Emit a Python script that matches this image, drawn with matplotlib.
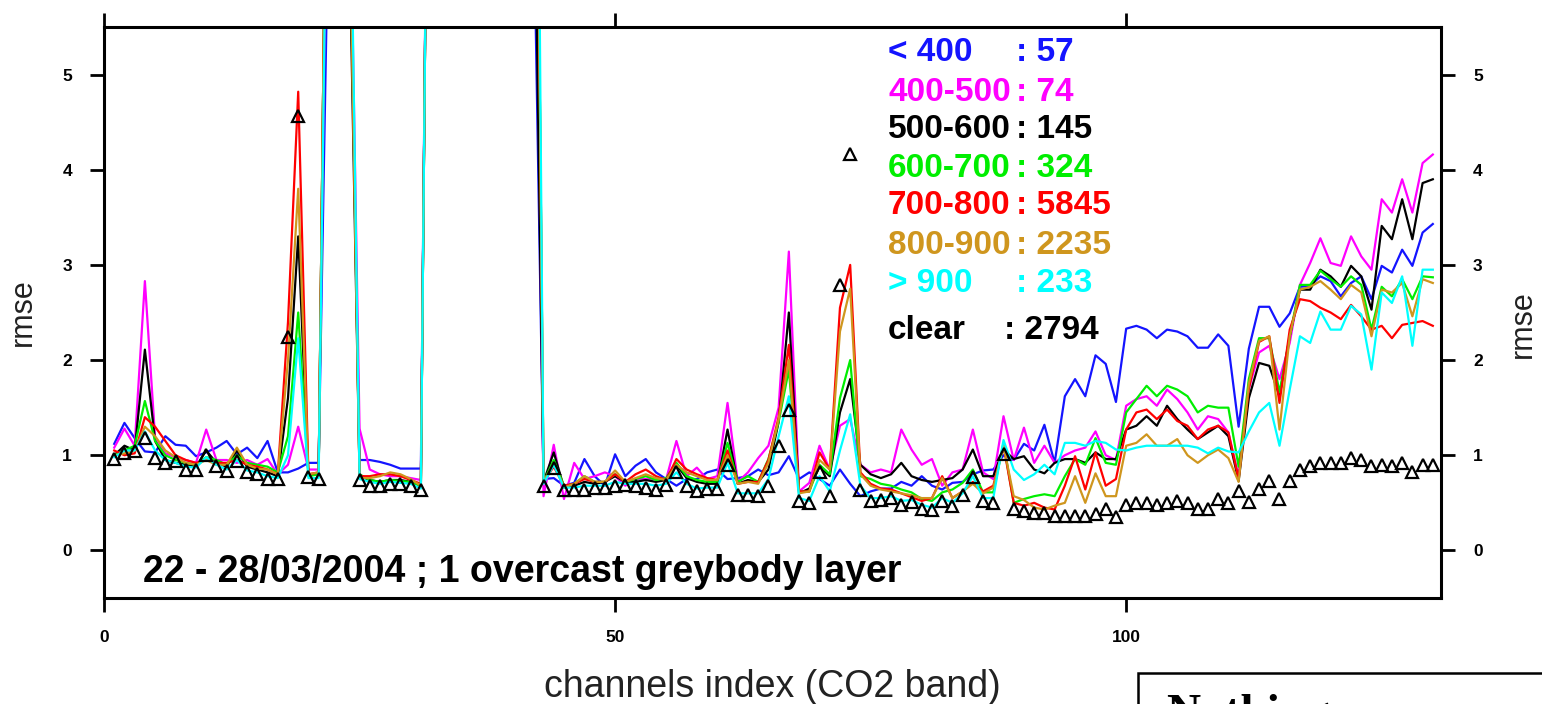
import numpy as np
import matplotlib
matplotlib.use('Agg')
import matplotlib.pyplot as plt
from matplotlib.patches import Rectangle

# channel index of the CO2 band
channels = np.arange(1, 131)

# rmse per cloud-top pressure class (values above 5.5 leave the frame)
lt400 = [
    1.12, 1.34, 1.18, 1.04, 1.03, 1.20, 1.11, 1.10, 0.99, 1.03,
    1.08, 1.15, 1.01, 1.08, 0.97, 1.15, 0.82, 0.82, 0.86, 0.92,
    0.92, 7.0, 12.0, 7.0, 0.95, 0.95, 0.93, 0.90, 0.86, 0.86,
    0.86, 12.0, 12.0, 12.0, 12.0, 12.0, 12.0, 12.0, 12.0, 12.0,
    12.0, 7.0, 0.75, 0.76, 0.68, 0.71, 0.96, 0.78, 0.68, 1.01,
    0.78, 0.89, 0.96, 0.82, 0.75, 0.68, 0.75, 0.75, 0.82, 0.85,
    0.75, 0.76, 0.78, 0.85, 0.79, 0.82, 0.99, 0.75, 0.82, 0.75,
    0.68, 0.85, 0.70, 0.57, 0.62, 0.65, 0.65, 0.72, 0.68, 0.78,
    0.68, 0.64, 0.71, 0.72, 0.80, 0.84, 0.85, 1.00, 0.95, 1.12,
    1.05, 1.32, 0.92, 1.62, 1.80, 1.62, 2.05, 1.96, 1.56, 2.33,
    2.36, 2.32, 2.23, 2.32, 2.30, 2.25, 2.13, 2.13, 2.27, 2.15,
    1.30, 2.12, 2.56, 2.56, 2.35, 2.49, 2.77, 2.78, 2.88, 2.83,
    2.67, 2.81, 2.88, 2.64, 2.99, 2.92, 3.16, 2.99, 3.34, 3.43,
]
p400_500 = [
    1.08, 1.28, 1.10, 2.83, 1.18, 1.02, 0.98, 0.95, 0.92, 1.27,
    0.95, 0.95, 0.92, 0.95, 0.90, 0.96, 0.80, 0.90, 1.30, 0.85,
    0.85, 9.0, 12.0, 7.5, 1.28, 0.85, 0.80, 0.78, 0.78, 0.76,
    0.74, 12.0, 12.0, 12.0, 12.0, 12.0, 12.0, 12.0, 12.0, 12.0,
    12.0, 9.0, 0.57, 1.11, 0.54, 0.92, 0.75, 0.78, 0.82, 0.78,
    0.68, 0.75, 0.75, 0.75, 0.75, 1.15, 0.78, 0.87, 0.75, 0.78,
    1.55, 0.72, 0.82, 0.97, 1.10, 1.50, 3.14, 0.62, 0.71, 1.10,
    0.85, 1.31, 1.38, 0.90, 0.82, 0.85, 0.82, 1.27, 1.06, 0.90,
    0.96, 0.68, 0.82, 0.85, 1.27, 0.82, 0.75, 1.41, 0.95, 1.29,
    0.92, 1.10, 0.92, 1.00, 1.05, 1.08, 1.25, 1.00, 0.95, 1.52,
    1.59, 1.62, 1.52, 1.69, 1.59, 1.45, 1.27, 1.41, 1.38, 1.24,
    0.78, 1.70, 2.08, 2.15, 1.80, 2.18, 2.79, 3.02, 3.28, 3.02,
    2.99, 3.30, 3.09, 2.95, 3.69, 3.55, 3.90, 3.55, 4.07, 4.16,
]
p500_600 = [
    1.00, 1.10, 1.05, 2.11, 1.15, 0.95, 0.92, 0.90, 0.88, 1.05,
    0.92, 0.88, 1.05, 0.88, 0.85, 0.82, 0.78, 1.60, 3.30, 0.80,
    0.80, 10.0, 12.0, 6.5, 0.78, 0.74, 0.72, 0.74, 0.74, 0.72,
    0.68, 12.0, 12.0, 12.0, 12.0, 12.0, 12.0, 12.0, 12.0, 12.0,
    12.0, 8.0, 0.72, 1.03, 0.66, 0.68, 0.72, 0.70, 0.72, 0.78,
    0.72, 0.72, 0.74, 0.72, 0.74, 0.90, 0.76, 0.72, 0.70, 0.70,
    1.27, 0.70, 0.74, 0.72, 0.85, 1.35, 2.50, 0.60, 0.65, 0.88,
    0.78, 1.45, 1.80, 0.90, 0.80, 0.76, 0.80, 0.92, 0.78, 0.74,
    0.72, 0.74, 0.76, 0.85, 1.06, 0.78, 0.78, 1.06, 0.96, 0.99,
    0.85, 0.81, 0.92, 0.96, 0.96, 0.92, 1.03, 0.96, 0.96, 1.27,
    1.31, 1.41, 1.31, 1.52, 1.38, 1.27, 1.17, 1.24, 1.31, 1.20,
    0.73, 1.60, 1.97, 1.94, 1.62, 2.25, 2.74, 2.74, 2.95, 2.88,
    2.77, 2.99, 2.88, 2.53, 3.41, 3.27, 3.69, 3.27, 3.86, 3.90,
]
p600_700 = [
    1.00, 1.05, 1.10, 1.57, 1.15, 1.00, 0.95, 0.92, 0.90, 0.98,
    0.95, 0.90, 1.00, 0.92, 0.90, 0.88, 0.82, 1.20, 2.50, 0.78,
    0.80, 10.0, 12.0, 7.0, 0.80, 0.74, 0.72, 0.74, 0.73, 0.72,
    0.68, 12.0, 12.0, 12.0, 12.0, 12.0, 12.0, 12.0, 12.0, 12.0,
    12.0, 12.0, 0.72, 0.95, 0.68, 0.70, 0.78, 0.72, 0.72, 0.80,
    0.72, 0.75, 0.78, 0.74, 0.76, 0.92, 0.78, 0.74, 0.72, 0.72,
    1.13, 0.72, 0.78, 0.72, 0.96, 1.35, 1.90, 0.62, 0.62, 0.90,
    0.80, 1.60, 2.00, 0.78, 0.75, 0.70, 0.68, 0.64, 0.61, 0.54,
    0.52, 0.61, 0.64, 0.71, 0.85, 0.61, 0.61, 1.13, 0.50, 0.54,
    0.57, 0.59, 0.57, 0.78, 0.96, 0.90, 1.18, 0.92, 0.90, 1.45,
    1.59, 1.73, 1.62, 1.73, 1.69, 1.62, 1.45, 1.52, 1.50, 1.50,
    0.88, 1.80, 2.23, 2.23, 1.66, 2.25, 2.79, 2.79, 2.94, 2.85,
    2.77, 2.88, 2.79, 2.32, 2.77, 2.67, 2.85, 2.64, 2.88, 2.87,
]
p700_800 = [
    1.05, 1.00, 1.02, 1.40, 1.30, 1.15, 1.00, 0.95, 0.92, 0.95,
    0.92, 0.92, 0.95, 0.90, 0.88, 0.85, 0.80, 2.40, 4.82, 0.80,
    0.82, 10.0, 12.0, 7.0, 0.78, 0.78, 0.80, 0.80, 0.78, 0.74,
    0.70, 12.0, 12.0, 12.0, 12.0, 12.0, 12.0, 12.0, 12.0, 12.0,
    12.0, 12.0, 0.72, 0.88, 0.68, 0.70, 0.75, 0.72, 0.72, 0.80,
    0.72, 0.80, 0.85, 0.78, 0.74, 0.96, 0.85, 0.80, 0.76, 0.74,
    1.05, 0.70, 0.72, 0.72, 0.95, 1.40, 2.16, 0.62, 0.62, 1.03,
    0.85, 2.55, 3.00, 0.82, 0.70, 0.65, 0.64, 0.60, 0.56, 0.52,
    0.55, 0.78, 0.55, 0.62, 0.72, 0.62, 0.68, 1.10, 0.50, 0.47,
    0.50, 0.45, 0.43, 0.68, 0.99, 0.64, 1.03, 0.68, 0.75, 1.27,
    1.45, 1.48, 1.38, 1.48, 1.36, 1.31, 1.17, 1.27, 1.31, 1.24,
    0.75, 1.70, 2.19, 2.25, 1.55, 2.32, 2.64, 2.62, 2.55, 2.50,
    2.43, 2.58, 2.46, 2.32, 2.36, 2.23, 2.37, 2.39, 2.41, 2.36,
]
p800_900 = [
    1.00, 1.02, 1.05, 1.30, 1.20, 1.05, 0.98, 0.92, 0.90, 0.95,
    0.90, 0.90, 1.08, 0.90, 0.86, 0.85, 0.80, 2.00, 3.80, 0.80,
    0.82, 10.0, 12.0, 7.0, 0.76, 0.76, 0.78, 0.82, 0.80, 0.75,
    0.68, 12.0, 12.0, 12.0, 12.0, 12.0, 12.0, 12.0, 12.0, 12.0,
    12.0, 12.0, 0.72, 0.92, 0.66, 0.70, 0.78, 0.72, 0.72, 0.84,
    0.72, 0.76, 0.80, 0.76, 0.74, 0.90, 0.82, 0.78, 0.74, 0.74,
    1.00, 0.70, 0.72, 0.70, 0.92, 1.38, 2.00, 0.60, 0.62, 0.95,
    0.85, 2.30, 2.75, 0.80, 0.68, 0.64, 0.62, 0.60, 0.58, 0.55,
    0.55, 0.76, 0.55, 0.62, 0.70, 0.60, 0.66, 1.10, 0.57, 0.53,
    0.45, 0.43, 0.47, 0.50, 0.78, 0.50, 0.81, 0.57, 0.57, 1.10,
    1.13, 1.22, 1.10, 1.10, 1.17, 1.00, 0.92, 1.00, 1.06, 0.97,
    0.72, 1.75, 2.20, 2.25, 1.27, 2.25, 2.74, 2.77, 2.83, 2.74,
    2.64, 2.79, 2.71, 2.25, 2.74, 2.71, 2.81, 2.46, 2.85, 2.81,
]
gt900 = [
    0.98, 1.05, 1.05, 1.25, 1.05, 0.95, 0.92, 0.88, 0.87, 0.98,
    0.90, 0.85, 0.95, 0.84, 0.82, 0.78, 0.76, 1.00, 2.23, 0.76,
    0.76, 9.0, 12.0, 8.0, 0.75, 0.72, 0.70, 0.72, 0.71, 0.70,
    0.65, 12.0, 12.0, 12.0, 12.0, 12.0, 12.0, 12.0, 12.0, 12.0,
    12.0, 14.0, 0.70, 0.90, 0.66, 0.66, 0.68, 0.68, 0.68, 0.72,
    0.70, 0.70, 0.70, 0.68, 0.70, 0.82, 0.70, 0.65, 0.66, 0.66,
    0.92, 0.60, 0.60, 0.60, 0.75, 1.20, 1.62, 0.55, 0.52, 0.78,
    0.62, 1.05, 1.43, 0.68, 0.55, 0.55, 0.57, 0.52, 0.53, 0.48,
    0.45, 0.55, 0.50, 0.60, 0.78, 0.55, 0.55, 1.16, 0.85, 0.74,
    0.80, 0.90, 0.80, 1.13, 1.13, 1.10, 1.15, 1.13, 1.06, 1.05,
    1.08, 1.10, 1.10, 1.10, 1.10, 1.10, 1.08, 1.02, 1.08, 1.04,
    1.03, 1.25, 1.45, 1.55, 1.10, 1.69, 2.25, 2.18, 2.51, 2.32,
    2.32, 2.57, 2.48, 1.90, 2.71, 2.60, 2.88, 2.15, 2.95, 2.95,
]
nan = np.nan
clear = [
    0.96, 1.02, 1.04, 1.18, 0.97, 0.92, 0.94, 0.85, 0.85, 1.00,
    0.89, 0.83, 0.94, 0.82, 0.80, 0.75, 0.75, 2.24, 4.56, 0.77,
    0.75, nan, nan, nan, 0.74, 0.68, 0.68, 0.70, 0.70, 0.68,
    0.63, nan, nan, nan, nan, nan, nan, nan, nan, nan,
    nan, nan, 0.68, 0.87, 0.64, 0.64, 0.64, 0.66, 0.66, 0.68,
    0.69, 0.68, 0.66, 0.64, 0.69, 0.82, 0.68, 0.62, 0.65, 0.65,
    0.90, 0.58, 0.58, 0.57, 0.68, 1.10, 1.48, 0.52, 0.50, 0.82,
    0.57, 2.79, 4.17, 0.64, 0.52, 0.53, 0.55, 0.48, 0.51, 0.43,
    0.42, 0.52, 0.47, 0.58, 0.77, 0.52, 0.50, 1.01, 0.43, 0.41,
    0.39, 0.39, 0.36, 0.36, 0.36, 0.36, 0.38, 0.43, 0.35, 0.48,
    0.50, 0.50, 0.48, 0.50, 0.52, 0.50, 0.43, 0.43, 0.54, 0.50,
    0.62, 0.51, 0.65, 0.73, 0.54, 0.73, 0.85, 0.89, 0.92, 0.92,
    0.92, 0.97, 0.95, 0.89, 0.90, 0.89, 0.92, 0.82, 0.90, 0.90,
]

series = [lt400, p400_500, p500_600, p600_700, p700_800, p800_900, gt900]
colors = ['#1414ff', '#ff00ff', '#000000', '#00ee00', '#ff0000', '#cf961e', '#00ffff']
class_names = ['< 400', '400-500', '500-600', '600-700', '700-800', '800-900', '> 900']
class_counts = [57, 74, 145, 324, 5845, 2235, 233]
clear_count = 2794

plt.rcParams['font.family'] = ['Liberation Sans', 'DejaVu Sans']

fig = plt.figure(figsize=(15.42, 7.04), dpi=100)
ax = fig.add_axes([104 / 1542, 1 - 598 / 704, 1337 / 1542, 571 / 704])

for vals, col in zip(series, colors):
    ax.plot(channels, vals, color=col, lw=1.6)
ax.plot(channels, clear, linestyle='none', marker='^', ms=9, mfc='none',
        mec='black', mew=1.6, zorder=5)

ax.set_xlim(0, 130.8)
ax.set_ylim(-0.5, 5.5)
ax.set_xticks([0, 50, 100])
ax.set_yticks([0, 1, 2, 3, 4, 5])
ax.tick_params(direction='out', length=10, width=2, top=True, right=True,
               labelright=True, labelsize=12.5, pad=13)
for lab in ax.get_xticklabels() + ax.get_yticklabels():
    lab.set_fontweight('bold')
for sp in ax.spines.values():
    sp.set_linewidth(2.2)

ax.text(-0.061, 0.5, 'rmse', transform=ax.transAxes, rotation=90,
        fontsize=22, color='#222222', ha='center', va='center')
ax.text(1.061, 0.48, 'rmse', transform=ax.transAxes, rotation=90,
        fontsize=22, color='#222222', ha='center', va='center')
ax.text(0.5, -0.155, 'channels index (CO2 band)', transform=ax.transAxes,
        fontsize=27, color='#222222', ha='center', va='center')

ax.text(0.029, 0.028, '22 - 28/03/2004 ; 1 overcast greybody layer',
        transform=ax.transAxes, fontsize=27, fontweight='bold', va='baseline')

# legend written as coloured text
row_y = [0.956, 0.886, 0.820, 0.753, 0.687, 0.618, 0.550]
for name, n, col, y in zip(class_names, class_counts, colors, row_y):
    ax.text(0.5864, y, name, transform=ax.transAxes, color=col,
            fontsize=24, fontweight='bold', va='center')
    ax.text(0.682, y, ': %d' % n, transform=ax.transAxes, color=col,
            fontsize=24, fontweight='bold', va='center')
ax.text(0.5864, 0.469, 'clear', transform=ax.transAxes, color='black',
        fontsize=24, fontweight='bold', va='center')
ax.text(0.673, 0.469, ': %d' % clear_count, transform=ax.transAxes,
        color='black', fontsize=24, fontweight='bold', va='center')

# cropped box of the next page element
fig.patches.append(Rectangle((1138 / 1542, -0.05), 0.3, 0.05 + 31 / 704,
                             transform=fig.transFigure, fill=False,
                             lw=1.8, edgecolor='black'))
fig.text(1167 / 1542, -22 / 704, 'Nothing new, a continuation',
         family='Liberation Serif', fontweight='bold', fontsize=34,
         va='baseline')

fig.savefig('out.png', dpi=100)
